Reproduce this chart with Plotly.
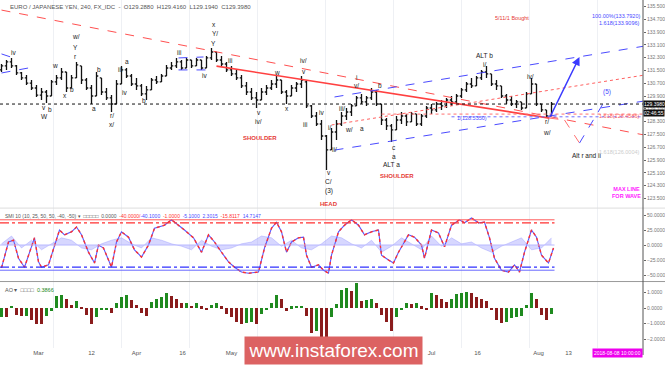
import plotly.graph_objects as go
from plotly.subplots import make_subplots

# ---------------- data ----------------
bar_idx = list(range(111))
opens = [131.53,131.78,132.03,131.78,131.34,131.03,130.71,130.40,129.96,130.15,
         129.90,130.78,131.03,131.40,130.40,131.03,131.78,130.90,130.40,129.90,
         131.03,130.15,129.78,129.40,130.65,131.53,131.15,130.65,130.53,130.03,
         130.28,130.90,130.78,131.15,131.65,131.78,132.03,131.65,132.15,131.78,
         132.15,131.65,132.28,132.65,132.15,131.90,131.53,131.28,131.03,130.53,
         130.15,129.78,129.65,130.15,130.40,130.65,130.90,130.15,129.90,130.40,
         130.65,130.78,129.28,128.65,128.15,127.40,126.53,127.65,128.15,128.65,
         128.90,129.28,129.78,129.53,129.78,130.15,129.40,128.40,128.03,127.78,
         128.40,128.65,128.28,128.78,128.15,128.65,129.15,129.03,129.40,129.28,
         129.65,129.53,129.90,130.28,130.65,130.53,131.03,131.40,131.28,130.65,
         130.53,129.90,129.65,129.40,129.53,129.15,130.03,130.65,129.40,129.03,
         128.65]
highs = [131.90,132.15,132.28,131.84,131.40,131.21,130.90,130.59,130.40,130.28,
         130.90,131.21,131.65,131.40,131.21,132.03,131.78,131.03,130.59,131.40,
         131.03,130.40,129.96,130.90,131.78,131.65,131.28,131.03,130.65,130.53,
         131.03,131.15,131.28,131.84,132.03,132.28,132.15,132.28,132.15,132.28,
         132.15,132.40,132.90,132.65,132.40,132.03,131.78,131.53,131.21,130.78,
         130.40,130.15,130.40,130.59,130.90,131.15,130.90,130.28,130.59,130.78,
         131.15,130.90,129.34,128.90,128.40,127.46,127.90,128.40,128.90,129.15,
         129.40,129.90,130.03,129.90,130.40,130.28,129.40,128.53,128.15,128.65,
         128.90,128.78,128.90,128.78,128.78,129.28,129.40,129.53,129.65,129.78,
         129.90,130.03,130.40,130.78,131.03,131.15,131.53,131.78,131.28,130.90,
         130.53,130.03,129.90,129.65,129.53,130.15,131.03,130.65,129.40,129.03,
         129.53]
lows = [131.40,131.53,131.65,131.21,130.90,130.59,130.28,129.84,129.65,129.46,
        129.90,130.59,130.90,130.15,130.40,131.03,130.65,130.28,129.40,129.90,
        129.96,129.65,128.90,129.40,130.65,131.03,130.53,130.28,129.90,129.65,
        130.28,130.65,130.78,131.15,131.53,131.65,131.53,131.65,131.65,131.78,
        131.53,131.65,132.15,132.03,131.78,131.40,131.15,130.90,130.40,129.96,
        129.65,129.15,129.65,129.96,130.28,130.40,130.03,129.40,129.90,130.15,
        130.40,129.15,128.53,128.03,127.15,125.28,126.53,127.15,128.03,128.40,
        128.65,129.28,129.40,129.28,129.65,129.28,128.09,127.78,127.03,127.78,
        128.15,128.03,128.28,128.03,128.03,128.53,128.78,128.90,129.03,129.15,
        129.28,129.40,129.78,130.15,130.40,130.53,130.90,131.03,130.53,130.28,
        129.78,129.40,129.28,129.15,129.03,129.15,130.03,129.28,128.90,128.53,
        128.65]
closes = [131.78,132.03,131.78,131.34,131.03,130.71,130.40,129.96,130.15,129.90,
          130.78,131.03,131.40,130.40,131.03,131.84,130.90,130.40,129.90,131.15,
          130.15,129.78,129.40,130.65,131.53,131.15,130.65,130.53,130.03,130.28,
          130.90,130.78,131.15,131.65,131.78,132.03,131.65,132.15,131.78,132.15,
          131.65,132.28,132.65,132.15,131.90,131.53,131.28,131.03,130.53,130.15,
          129.78,129.65,130.15,130.40,130.65,130.90,130.15,129.90,130.40,130.65,
          130.90,129.28,128.65,128.15,127.40,126.53,127.65,128.15,128.65,128.90,
          129.28,129.78,129.53,129.78,130.15,129.40,128.40,128.03,127.78,128.40,
          128.65,128.28,128.78,128.15,128.65,129.15,129.03,129.40,129.28,129.65,
          129.53,129.90,130.28,130.65,130.53,131.03,131.40,131.28,130.65,130.53,
          129.90,129.65,129.40,129.53,129.15,130.03,130.65,129.40,129.03,128.65,
          129.398]
last_price = 129.398

# SMI oscillator (x in bar units)
osc_x = [0,1.4,2.4,3.4,4.6,6,6.6,7.4,8,9.4,10.6,11.6,12.6,14,15,16,17.4,18.6,19.4,20.4,
         21.4,22,23,24,25.4,26.6,28,29.4,30.6,32.6,34,35.4,36.6,38.4,40,41.4,42.6,44,45.4,46.6,
         48,49.4,51.4,52.6,54,55,56,57,58,59.4,60.4,61,62,63.4,64.4,65.4,66,67.4,68.6,70,
         71.4,72.6,74,75.4,76,77.4,78.4,79.4,81.4,82.6,84,84.6,86,87.4,88.6,90,91.6,92.6,94,95.4,
         96.6,97.6,98.6,100,101.4,102.6,103.6,104.6,106,107,108,109.4,110.4]
osc_v = [-38,5,8,-22,-37,-5,12,-28,-37,-33,0,25,17,22,30,17,-12,-30,0,-5,
         -25,-37,5,22,13,-8,-20,0,28,33,42,33,25,12,-12,17,5,-12,-28,-37,
         -45,-47,-45,-5,28,38,22,-12,5,12,13,-17,-37,-33,-42,-47,-17,22,33,42,
         33,17,22,25,-17,-25,-30,-12,17,13,0,-22,25,20,-3,33,42,37,45,37,
         38,12,-22,-42,-45,-33,-45,-12,25,13,-17,-30,-5]
hist_x = list(range(0, 112, 2))
hist_v = [2,15,-5,8,-8,2,12,8,-5,-8,2,8,12,2,-5,12,8,2,-2,-8,
          8,-2,-8,-5,2,5,15,12,-2,8,-5,-8,2,15,12,2,-5,8,-12,-2,
          12,2,-8,15,-2,12,2,5,-5,-12,-2,5,12,-8,-5,12]

# Awesome oscillator
ao_vals = [-0.55,-0.6,0.15,-0.45,-0.5,-0.5,-0.75,-1.0,-1.05,-0.5,
           -0.2,0.75,0.85,0.55,0.2,0.45,0.05,-0.45,-1.0,-0.6,
           -0.15,-0.1,-0.35,0.35,0.7,0.85,0.5,0.2,-0.3,-0.5,
           0.4,0.55,0.7,1.0,0.75,0.55,0.3,0.3,0.15,0.3,
           0.1,-0.1,0.2,0.3,0.1,-0.4,-0.6,-0.9,-1.0,-0.95,
           -0.9,-1.0,-0.4,-0.1,0.3,0.85,0.6,-0.2,0.1,0.15,
           0.15,-0.5,-1.6,-1.5,-2.05,-2.3,-0.6,0.25,1.15,1.3,
           1.1,1.6,0.45,0.5,0.55,0.3,-0.45,-0.9,-1.5,-0.6,
           -0.1,0.3,0.25,0.35,0.1,-0.15,0.95,0.85,0.55,0.4,
           0.55,0.9,0.95,1.05,0.95,0.7,0.55,0.45,-0.15,-0.75,
           -0.95,-0.9,-0.65,-0.55,-0.5,0.2,0.95,0.55,-0.45,-0.8,
           -0.4]

x_tick_pos = [7.4, 18, 27, 36.2, 46, 86, 95.2, 107.4, 113.4]
x_tick_txt = ["Mar", "12", "Apr", "16", "May", "Jul", "16", "Aug", "13"]

# ---------------- figure ----------------
fig = make_subplots(rows=3, cols=1, shared_xaxes=True, vertical_spacing=0.01)

fig.add_trace(go.Ohlc(x=bar_idx, open=opens, high=highs, low=lows, close=closes,
                      increasing=dict(line=dict(color="#111111", width=1.3)),
                      decreasing=dict(line=dict(color="#111111", width=1.3)),
                      tickwidth=0.35, showlegend=False, hoverinfo="skip"), row=1, col=1)

fig.add_trace(go.Scatter(x=hist_x, y=hist_v, mode="lines", fill="tozeroy",
                         line=dict(color="rgba(120,120,255,0.5)", width=0.6),
                         fillcolor="rgba(140,140,255,0.35)", showlegend=False,
                         hoverinfo="skip"), row=2, col=1)
fig.add_trace(go.Scatter(x=osc_x, y=osc_v, mode="lines",
                         line=dict(color="#5a5aff", width=1.1), showlegend=False,
                         hoverinfo="skip"), row=2, col=1)
fig.add_trace(go.Scatter(x=osc_x, y=osc_v, mode="lines",
                         line=dict(color="#ff3030", width=1.4, dash="dot"), showlegend=False,
                         hoverinfo="skip"), row=2, col=1)

ao_colors = ["#1f8a1f" if (i == 0 or v >= ao_vals[i - 1]) else "#8a1c1c"
             for i, v in enumerate(ao_vals)]
fig.add_trace(go.Bar(x=bar_idx, y=ao_vals, marker=dict(color=ao_colors, line=dict(width=0)),
                     width=0.6, showlegend=False, hoverinfo="skip"), row=3, col=1)

XR = [-0.3, 128.3]
axis_font = dict(family="Liberation Sans, Arial", size=5, color="#777")
for ax in ["xaxis", "xaxis2", "xaxis3"]:
    fig.layout[ax].update(range=XR, showgrid=False, zeroline=False, showticklabels=False,
                          rangeslider=dict(visible=False), ticks="")
fig.layout.xaxis3.update(showticklabels=True, tickvals=x_tick_pos, ticktext=x_tick_txt,
                         tickfont=dict(family="Liberation Sans, Arial", size=6, color="#555"))

ycommon = dict(side="right", showgrid=False, zeroline=False, ticks="outside", ticklen=2,
               tickcolor="#666", tickfont=axis_font, tickformat=".4f", automargin=False,
               showline=False)
fig.layout.yaxis.update(domain=[0.405, 1], range=[122.96, 135.9], tick0=0.3, dtick=0.8, **ycommon)
fig.layout.yaxis2.update(domain=[0.1925, 0.3994], range=[-60, 60],
                         tickvals=[-50, -25, 0, 25, 50], **ycommon)
fig.layout.yaxis3.update(domain=[0, 0.1868], range=[-2.58, 1.613], tick0=0, dtick=1, **ycommon)

shapes = []
# vertical faint grid
for gx in [10.4, 24, 37.6, 51.2, 64.8, 78.4, 92, 105.6, 119.2]:
    shapes.append(dict(type="line", xref="x", yref="paper", x0=gx, x1=gx, y0=0, y1=1,
                       line=dict(color="#eef0f4", width=1), layer="below"))

# trendline drawings on main pane: (x0, y0, x1, y1, color, dash, width)
drawings = [
    (0, 135.27, 128.6, 127.46, "#ff5050", "dash", 1),
    (43, 131.77, 109.6, 128.52, "#ff4040", "solid", 1.6),
    (66.6, 129.84, 128.6, 133.02, "#4a4aff", "dash", 1),
    (66.6, 126.52, 128.6, 129.59, "#4a4aff", "dash", 1),
    (66, 128.09, 128.6, 131.21, "#ff6060", "dot", 1),
    (76, 128.77, 128.6, 128.77, "#ff7070", "dot", 1),
    (90, 128.60, 128.6, 128.60, "#7070ff", "dot", 1),
    (0, 132.53, 2.4, 132.28, "#4a4aff", "dash", 1),
    (0, 131.34, 6.4, 131.71, "#4a4aff", "dash", 1),
    (35.4, 132.28, 40.4, 132.34, "#4a4aff", "dash", 1),
    (35.4, 131.53, 41, 131.53, "#4a4aff", "dash", 1),
    (109.6, 128.52, 112.6, 128.40, "#ff7070", "dash", 1),
    (112.6, 128.40, 115.6, 126.96, "#ff7070", "dash", 1),
    (115.6, 126.96, 121, 129.78, "#4a4aff", "dash", 1),
]
for x0, y0, x1, y1, c, d, w in drawings:
    shapes.append(dict(type="line", xref="x", yref="y", x0=x0, y0=y0, x1=x1, y1=y1,
                       line=dict(color=c, width=w, dash=d)))
# current price line
shapes.append(dict(type="line", xref="x", yref="y", x0=XR[0], x1=XR[1], y0=last_price,
                   y1=last_price, line=dict(color="#111", width=1, dash="dot")))
# oscillator levels
for lv, c, d in [(42, "#ff5a5a", "solid"), (37, "#ff3030", "dashdot"),
                 (-37, "#3030ff", "dashdot"), (-42, "#6a6aff", "solid"),
                 (0, "#b8b8ff", "solid")]:
    shapes.append(dict(type="line", xref="x", yref="y2", x0=XR[0], x1=110.6, y0=lv, y1=lv,
                       line=dict(color=c, width=1.3 if d == "dashdot" else 1, dash=d)))
# separators / right axis line
shapes.append(dict(type="line", xref="paper", yref="paper", x0=0, x1=1.04, y0=0.191, y1=0.191,
                   line=dict(color="#999", width=1)))
shapes.append(dict(type="line", xref="paper", yref="paper", x0=0, x1=1.04, y0=0.402, y1=0.402,
                   line=dict(color="#ddd", width=1)))
shapes.append(dict(type="line", xref="paper", yref="paper", x0=1, x1=1, y0=-0.02, y1=1,
                   line=dict(color="#555", width=1)))

ann = []
def lab(x, y, t, color="#222", size=6.5, xanchor="center", bold=False):
    ann.append(dict(x=x, y=y, xref="x", yref="y", text=("<b>%s</b>" % t) if bold else t,
                    showarrow=False, xanchor=xanchor,
                    font=dict(family="Liberation Sans, Arial", size=size, color=color)))

wave_labels = [
    (2.4, 132.65, "iv"), (8.4, 129.21, "v"), (9.6, 129.03, "b"), (8.6, 128.59, "W"),
    (10.6, 131.78, "w"), (12.6, 129.96, "x"), (14, 130.28, "b"),
    (14.8, 133.59, "w/"), (14.8, 132.96, "Y"), (14.8, 132.34, "r"),
    (19.4, 131.53, "b"), (18.4, 129.15, "a"), (22, 128.71, "r/"), (22, 128.09, "x/"),
    (25, 132.03, "a"), (23.6, 131.53, "iii"), (24.6, 130.09, "iv"), (28.4, 129.59, "b"),
    (35.4, 132.59, "iii"), (40.6, 131.21, "iv"),
    (42.4, 134.40, "x"), (42.6, 133.78, "Y/"), (42.4, 133.21, "Y"),
    (45.6, 132.15, "iii"), (51.4, 128.90, "v"), (51.4, 128.28, "iv/"),
    (55, 131.34, "w"), (57, 129.15, "x"), (60.4, 132.09, "iv/"), (60.4, 131.46, "v"),
    (60.6, 128.09, "iii"), (64, 128.84, "iv"), (65.6, 127.96, "i/"), (66.6, 126.53, "ii/"),
    (65.4, 125.15, "v"), (65.4, 124.53, "C/"), (65.4, 123.96, "(3)"),
    (68, 129.15, "iii/"), (69.4, 127.78, "w/"), (71, 131.03, "i"), (71, 130.53, "v/"),
    (75.6, 130.53, "b"), (72, 127.84, "a"), (78.4, 126.71, "c"), (78.4, 126.09, "a"),
    (78, 125.59, "ALT a"), (96.6, 132.46, "ALT b"), (96.6, 131.84, "i/"),
    (105.8, 131.15, "iv/"), (109, 128.28, "r/"), (109, 127.65, "w/"),
    (117, 126.21, "Alt r and ii"),
]
for x, y, t in wave_labels:
    lab(x, y, t)

lab(51.6, 127.28, "SHOULDER", "#e53935", 6, bold=True)
lab(65.4, 123.15, "HEAD", "#e53935", 6, bold=True)
lab(79, 124.90, "SHOULDER", "#e53935", 6, bold=True)
lab(102, 134.78, "5/11/1 Bought", "#e53935", 5.5)
lab(128, 134.90, "100.00%(133.7920)", "#4a4aff", 5.5, "right")
lab(128, 134.46, "1.618(133.9096)", "#4a4aff", 5.5, "right")
lab(90.6, 128.50, "1(128.5350)", "#4a4aff", 5.5, "left")
lab(128, 128.62, "1.618(128.4586)", "#ff6060", 5.5, "right")
lab(128, 126.40, "1.618(126.0004)", "#cccccc", 5.5, "right")
lab(121, 130.15, "(5)", "#4a4aff", 6.5)
ann.append(dict(x=125, y=123.84, xref="x", yref="y", text="<b>MAX LINE<br>FOR WAVE</b>",
                showarrow=False, font=dict(family="Liberation Sans, Arial", size=5.5,
                                           color="#ff20ff")))
# blue arrow
ann.append(dict(x=115.6, y=132.34, ax=109.6, ay=128.52, xref="x", yref="y", axref="x",
                ayref="y", showarrow=True, arrowhead=2, arrowsize=1.2, arrowwidth=1.4,
                arrowcolor="#3a3aff", text=""))
# price boxes on right axis
ann.append(dict(x=1, y=last_price, xref="paper", yref="y", xanchor="left", showarrow=False,
                text="129.3980", bgcolor="#111", borderpad=0,
                font=dict(family="Liberation Sans, Arial", size=5, color="white")))
ann.append(dict(x=1, y=128.86, xref="paper", yref="y", xanchor="left", showarrow=False,
                text="02:46:55", bgcolor="#111", borderpad=0,
                font=dict(family="Liberation Sans, Arial", size=5, color="white")))
# titles
ann.append(dict(x=0.012, y=1, xref="paper", yref="paper", xanchor="left", yanchor="top",
                yshift=-2, showarrow=False,
                text="EURO / JAPANESE YEN, 240, FX_IDC  -  O129.2880  H129.4160  L129.1940  C129.3980",
                font=dict(family="Liberation Sans, Arial", size=6, color="#555")))
ann.append(dict(x=0.005, y=0.3994, xref="paper", yref="paper", xanchor="left", yanchor="top",
                yshift=-2, showarrow=False,
                text=("SMI 10 (10, 25, 50, 50, -40, -50) \u25be  \u25a1\u25a1\u25a1\u25a1\u25a1  0.0000  "
                      "<span style='color:#ff3030'>-40.0000/</span>"
                      "<span style='color:#4a4aff'>-40.1000</span>  "
                      "<span style='color:#ff3030'>-1.0000</span>  "
                      "<span style='color:#4a4aff'>-5.1000  2.3015</span>  "
                      "<span style='color:#ff3030'>-15.8117</span>  "
                      "<span style='color:#4a4aff'>14.7147</span>"),
                font=dict(family="Liberation Sans, Arial", size=5, color="#555")))
ann.append(dict(x=0.005, y=0.1868, xref="paper", yref="paper", xanchor="left", yanchor="top",
                yshift=-2, showarrow=False,
                text="AO \u25be  \u25a1\u25a1\u25a1\u25a1  <span style='color:#1f8a1f'>0.3866</span>",
                font=dict(family="Liberation Sans, Arial", size=5.5, color="#555")))
# watermark box with text
ann.append(dict(x=0.519, y=-0.007, xref="paper", yref="paper", showarrow=False,
                text="www.instaforex.com", width=177, height=27, bgcolor="#dc6262",
                borderpad=0, xanchor="center", yanchor="middle",
                font=dict(family="Liberation Sans, Arial", size=19, color="white")))
# timestamp
ann.append(dict(x=1, y=-0.013, xref="paper", yref="paper", xanchor="right", yanchor="middle",
                showarrow=False, text="2018-08-08 10:00:00", bgcolor="#ee00ee", borderpad=1,
                font=dict(family="Liberation Sans, Arial", size=5, color="white")))

fig.update_layout(width=665, height=366, margin=dict(l=0, r=22, t=0, b=18),
                  plot_bgcolor="white", paper_bgcolor="white", shapes=shapes,
                  annotations=ann, bargap=0, showlegend=False)

fig.write_html("out.html")
